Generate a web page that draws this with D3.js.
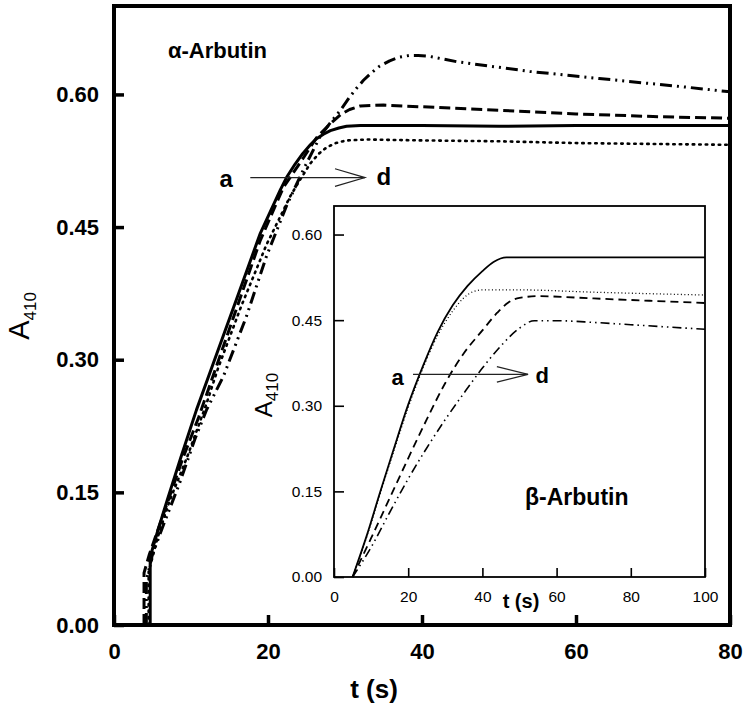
<!DOCTYPE HTML>
<html>
<head>
	<meta charset="UTF-8">
	<title>Arbutin A410 kinetics</title>
	<script src="https://d3js.org/d3.v7.min.js"></script>
	<style>
		body
		{
			margin: 0;
			background-color: white;
		}
		svg
		{
			display: block;
			font-family: "Liberation Sans", Arial, sans-serif;
		}
	</style>
</head>
<body>
	<svg width="747" height="717"></svg>
<script>

	// alpha-arbutin (main panel): time (s) and A410, curves a..d
	const alphaSolidT = [4.7, 4.7, 5.6, 6.9, 8.7, 10.7, 12.9, 15.9, 19, 21.6, 22.4, 23.5, 24.5, 25.5, 26.3, 27.2, 28.1, 29.2, 30.2, 32, 40, 50, 60, 70, 80];
	const alphaSolidA = [0, 0.077, 0.104, 0.141, 0.19, 0.243, 0.296, 0.368, 0.443, 0.492, 0.506, 0.521, 0.533, 0.543, 0.55, 0.555, 0.559, 0.562, 0.564, 0.565, 0.565, 0.564, 0.565, 0.565, 0.565];

	const alphaDotT = [4.5, 4.5, 5.7, 7.2, 9.5, 12, 13.5, 16.5, 19.8, 22.9, 24.2, 25.5, 26.6, 27.6, 28.8, 30.2, 33, 40, 50, 60, 70, 80];
	const alphaDotA = [0, 0.06, 0.1, 0.14, 0.19, 0.25, 0.29, 0.36, 0.43, 0.485, 0.504, 0.522, 0.533, 0.54, 0.545, 0.548, 0.549, 0.548, 0.547, 0.545, 0.544, 0.543];

	const alphaDashT = [3.9, 3.9, 4.6, 5.8, 7, 9, 11, 13, 16, 19, 22, 24.5, 26.3, 28.1, 29.4, 30.6, 32, 35, 40, 50, 60, 70, 80];
	const alphaDashA = [0, 0.059, 0.08, 0.11, 0.14, 0.19, 0.235, 0.285, 0.36, 0.435, 0.495, 0.527, 0.551, 0.567, 0.577, 0.583, 0.587, 0.588, 0.586, 0.582, 0.578, 0.575, 0.573];

	const alphaDashDotT = [4.2, 4.2, 5, 6.5, 8.5, 10.5, 12, 14.2, 17.2, 19.8, 22.4, 24.6, 26.8, 28.1, 29.4, 30.6, 31.5, 32.4, 33.5, 34.5, 35.8, 37, 38.3, 39.5, 41, 44.5, 48.8, 54, 63, 73.5, 80];
	const alphaDashDotA = [0, 0.05, 0.08, 0.115, 0.16, 0.21, 0.243, 0.281, 0.349, 0.417, 0.474, 0.515, 0.553, 0.568, 0.582, 0.597, 0.607, 0.616, 0.625, 0.632, 0.638, 0.642, 0.644, 0.644, 0.643, 0.637, 0.632, 0.626, 0.618, 0.609, 0.603];

	// beta-arbutin (inset)
	const betaSolidT = [5, 9, 12.4, 16, 20, 24, 28, 32, 36, 40, 43, 46.5, 60, 80, 100];
	const betaSolidA = [0, 0.076, 0.148, 0.222, 0.302, 0.37, 0.43, 0.476, 0.51, 0.536, 0.552, 0.56, 0.56, 0.56, 0.56];

	const betaDotT = [5, 9, 12.4, 16, 20, 24, 28, 32, 35, 37.5, 40, 50, 70, 100];
	const betaDotA = [0, 0.074, 0.145, 0.218, 0.297, 0.366, 0.424, 0.466, 0.489, 0.5, 0.503, 0.503, 0.499, 0.494];

	const betaDashT = [5, 10, 15, 20, 25, 30, 35, 40, 44, 47, 50, 55, 70, 85, 100];
	const betaDashA = [0, 0.068, 0.138, 0.208, 0.276, 0.34, 0.392, 0.432, 0.463, 0.481, 0.489, 0.492, 0.488, 0.484, 0.48];

	const betaDashDotT = [5, 10, 15, 20, 25, 30, 35, 40, 45, 50, 54, 60, 70, 80, 90, 100];
	const betaDashDotA = [0, 0.052, 0.113, 0.172, 0.226, 0.276, 0.322, 0.366, 0.405, 0.436, 0.449, 0.449, 0.446, 0.442, 0.438, 0.434];

	const mainXTicks = [0, 20, 40, 60, 80];
	const mainYTicks = [0, 0.15, 0.30, 0.45, 0.60];
	const insetXTicks = [0, 20, 40, 60, 80, 100];
	const insetYTicks = [0, 0.15, 0.30, 0.45, 0.60];

	const svg = d3.select("svg");

	// ---- main panel ----
	const x = d3.scaleLinear().domain([0, 80]).range([114, 730]);
	const y = d3.scaleLinear().domain([0, 0.70]).range([625, 6]);

	const line = (xs, ys, curve) => d3.line()
		.curve(curve)
		.x(d => xs(d[0]))
		.y(d => ys(d[1]));

	const mainCurves = [
		{t: alphaSolidT, a: alphaSolidA, dash: null, w: 3},
		{t: alphaDotT, a: alphaDotA, dash: "1.5,5", w: 2.6},
		{t: alphaDashT, a: alphaDashA, dash: "11,5", w: 3},
		{t: alphaDashDotT, a: alphaDashDotA, dash: "12,5,2,5,2,5", w: 3}
	];

	svg.append("g")
		.selectAll("path")
		.data(mainCurves)
		.enter()
		.append("path")
		.attr("d", d => line(x, y, d3.curveLinear)(d3.zip(d.t, d.a)))
		.attr("fill", "none")
		.attr("stroke", "black")
		.attr("stroke-width", d => d.w)
		.attr("stroke-linejoin", "round")
		.attr("stroke-linecap", d => d.dash == "1.5,5" ? "round" : "butt")
		.attr("stroke-dasharray", d => d.dash);

	const yAxis = d3.axisLeft(y).tickValues(mainYTicks).tickFormat(d3.format(".2f"))
		.tickSizeInner(-10).tickSizeOuter(0).tickPadding(15);
	const xAxis = d3.axisBottom(x).tickValues(mainXTicks).tickFormat(d3.format("d"))
		.tickSizeInner(-10).tickSizeOuter(0).tickPadding(18);

	svg.append("g")
		.attr("transform", "translate(" + x.range()[0] + ",0)")
		.call(yAxis)
		.call(g => g.select(".domain").remove())
		.call(g => g.selectAll("line").attr("stroke-width", 3.5))
		.call(g => g.selectAll("text").attr("font-size", 22).attr("font-weight", "bold").attr("font-family", null));

	svg.append("g")
		.attr("transform", "translate(0," + y.range()[0] + ")")
		.call(xAxis)
		.call(g => g.select(".domain").remove())
		.call(g => g.selectAll("line").attr("stroke-width", 3.5))
		.call(g => g.selectAll("text").attr("font-size", 22).attr("font-weight", "bold").attr("font-family", null));

	svg.append("rect")
		.attr("x", x.range()[0])
		.attr("y", y.range()[1])
		.attr("width", x.range()[1] - x.range()[0])
		.attr("height", y.range()[0] - y.range()[1])
		.attr("fill", "none")
		.attr("stroke", "black")
		.attr("stroke-width", 4);

	svg.append("text")
		.attr("x", 374)
		.attr("y", 698)
		.attr("text-anchor", "middle")
		.attr("font-size", 26)
		.attr("font-weight", "bold")
		.text("t (s)");

	const mainYLabel = svg.append("text")
		.attr("transform", "translate(29,316) rotate(-90)")
		.attr("text-anchor", "middle");
	mainYLabel.append("tspan").attr("font-size", 29).text("A");
	mainYLabel.append("tspan").attr("font-size", 17).attr("dy", 7).text("410");

	svg.append("text")
		.attr("x", x(7))
		.attr("y", y(0.641))
		.attr("font-size", 22)
		.attr("font-weight", "bold")
		.text("\u03b1-Arbutin");

	// a -> d arrow
	const drawArrow = (xs, ys, t0, t1, tHead, a, da, size, fromLabelT, toLabelT, labelDy) =>
	{
		const g = svg.append("g").attr("stroke", "#222").attr("stroke-width", 1.2).attr("fill", "none");
		g.append("line").attr("x1", xs(t0)).attr("x2", xs(t1)).attr("y1", ys(a)).attr("y2", ys(a));
		g.append("polyline").attr("points",
			xs(tHead) + "," + ys(a + da) + " " + xs(t1) + "," + ys(a) + " " + xs(tHead) + "," + ys(a - da));
		svg.append("text").attr("x", xs(fromLabelT)).attr("y", ys(a) + labelDy)
			.attr("font-size", size).attr("font-weight", "bold").text("a");
		svg.append("text").attr("x", xs(toLabelT)).attr("y", ys(a) + labelDy - 2)
			.attr("font-size", size).attr("font-weight", "bold").text("d");
	};

	drawArrow(x, y, 17.7, 32.6, 28.7, 0.506, 0.010, 24, 13.7, 34.1, 9);

	// ---- inset ----
	const xi = d3.scaleLinear().domain([0, 100]).range([334, 705]);
	const yi = d3.scaleLinear().domain([0, 0.65]).range([577, 206]);

	svg.append("rect")
		.attr("x", xi.range()[0])
		.attr("y", yi.range()[1])
		.attr("width", xi.range()[1] - xi.range()[0])
		.attr("height", yi.range()[0] - yi.range()[1])
		.attr("fill", "white");

	const insetCurves = [
		{t: betaSolidT, a: betaSolidA, dash: null, w: 1.8},
		{t: betaDotT, a: betaDotA, dash: "1,2.5", w: 1.3},
		{t: betaDashT, a: betaDashA, dash: "8,5", w: 1.8},
		{t: betaDashDotT, a: betaDashDotA, dash: "9,4,1.5,4,1.5,4", w: 1.6}
	];

	svg.append("g")
		.selectAll("path")
		.data(insetCurves)
		.enter()
		.append("path")
		.attr("d", d => line(xi, yi, d3.curveMonotoneX)(d3.zip(d.t, d.a)))
		.attr("fill", "none")
		.attr("stroke", "black")
		.attr("stroke-width", d => d.w)
		.attr("stroke-dasharray", d => d.dash);

	svg.append("g")
		.attr("transform", "translate(" + xi.range()[0] + ",0)")
		.call(d3.axisLeft(yi).tickValues(insetYTicks).tickFormat(d3.format(".2f"))
			.tickSizeInner(-10).tickSizeOuter(0).tickPadding(12))
		.call(g => g.select(".domain").remove())
		.call(g => g.selectAll("line").attr("stroke-width", 1.6))
		.call(g => g.selectAll("text").attr("font-size", 15.5).attr("font-family", null));

	svg.append("g")
		.attr("transform", "translate(0," + yi.range()[0] + ")")
		.call(d3.axisBottom(xi).tickValues(insetXTicks).tickFormat(d3.format("d"))
			.tickSizeInner(-9).tickSizeOuter(0).tickPadding(14))
		.call(g => g.select(".domain").remove())
		.call(g => g.selectAll("line").attr("stroke-width", 1.6))
		.call(g => g.selectAll("text").attr("font-size", 15.5).attr("font-family", null));

	svg.append("rect")
		.attr("x", xi.range()[0])
		.attr("y", yi.range()[1])
		.attr("width", xi.range()[1] - xi.range()[0])
		.attr("height", yi.range()[0] - yi.range()[1])
		.attr("fill", "none")
		.attr("stroke", "black")
		.attr("stroke-width", 1.8);

	svg.append("text")
		.attr("x", 521)
		.attr("y", 608)
		.attr("text-anchor", "middle")
		.attr("font-size", 20)
		.attr("font-weight", "bold")
		.text("t (s)");

	const insetYLabel = svg.append("text")
		.attr("transform", "translate(272,395) rotate(-90)")
		.attr("text-anchor", "middle");
	insetYLabel.append("tspan").attr("font-size", 24).text("A");
	insetYLabel.append("tspan").attr("font-size", 17).attr("dy", 6).text("410");

	svg.append("text")
		.attr("x", xi(51.5))
		.attr("y", yi(0.126))
		.attr("font-size", 23)
		.attr("font-weight", "bold")
		.text("\u03b2-Arbutin");

	drawArrow(xi, yi, 21.3, 52.3, 43.9, 0.355, 0.0135, 22, 15.5, 54.3, 11);

</script>
</body>
</html>
